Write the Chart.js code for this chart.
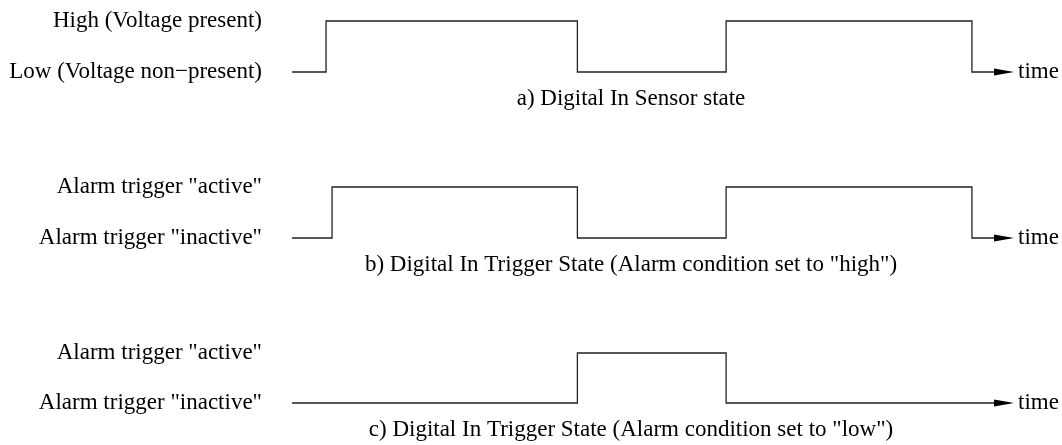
<!DOCTYPE html>
<html>
<head>
<meta charset="utf-8">
<script src="https://cdn.jsdelivr.net/npm/chart.js@4/dist/chart.umd.min.js"></script>
<style>
  body { margin: 0; background: #fff; overflow: hidden; }
  .panel { position: absolute; left: 0; width: 1062px; }
</style>
</head>
<body>
<div class="panel" style="top:0px;height:120px"><canvas id="chartA"></canvas></div>
<div class="panel" style="top:166px;height:120px"><canvas id="chartB"></canvas></div>
<div class="panel" style="top:332px;height:113px"><canvas id="chartC"></canvas></div>
<script>
// time of each change, and the level right after it (0 = low, 1 = high)
const timeA = [0, 3.4, 28.5, 43.35, 67.9, 71.1];
const stateA = [0, 1, 0, 1, 0, 0];
const timeB = [0, 4.0, 28.5, 43.35, 67.9, 71.1];
const stateB = [0, 1, 0, 1, 0, 0];
const timeC = [0, 28.5, 43.35, 71.1];
const stateC = [0, 1, 0, 0];

const levelsA = ['Low (Voltage non\u2212present)', 'High (Voltage present)'];
const levelsB = ['Alarm trigger "inactive"', 'Alarm trigger "active"'];
const levelsC = ['Alarm trigger "inactive"', 'Alarm trigger "active"'];

const captionA = 'a) Digital In Sensor state';
const captionB = 'b) Digital In Trigger State (Alarm condition set to "high")';
const captionC = 'c) Digital In Trigger State (Alarm condition set to "low")';
const axisName = 'time';

const FONT = { family: '"Liberation Serif", "Times New Roman", serif', size: 23 };

// arrow head used as point style on the last point of each trace
const arrow = document.createElement('canvas');
arrow.width = 20;
arrow.height = 8;
const actx = arrow.getContext('2d');
actx.fillStyle = '#000';
actx.beginPath();
actx.moveTo(0, 0.5);
actx.lineTo(20, 4);
actx.lineTo(0, 7.5);
actx.closePath();
actx.fill();

const captionPlugin = {
    id: 'caption',
    afterDraw(chart, args, opts) {
        const ctx = chart.ctx;
        ctx.save();
        ctx.font = FONT.size + 'px ' + FONT.family;
        ctx.fillStyle = '#000';
        ctx.textAlign = 'center';
        ctx.textBaseline = 'middle';
        ctx.fillText(opts.text, opts.x, chart.chartArea.bottom + opts.dy);
        ctx.restore();
    }
};

function makeTiming(id, times, states, levels, caption, padBottom) {
    const ctx = document.getElementById(id).getContext('2d');
    const last = times.length - 1;
    return new Chart(ctx, {
        type: 'line',
        data: {
            datasets: [{
                data: times.map((t, i) => ({ x: t, y: states[i] })),
                stepped: true,
                borderColor: '#222',
                borderWidth: 1.3,
                fill: false,
                clip: false,
                pointStyle: c => c.dataIndex === last ? arrow : 'circle',
                pointRadius: c => c.dataIndex === last ? 4 : 0,
                pointHoverRadius: 0
            }]
        },
        plugins: [captionPlugin],
        options: {
            responsive: true,
            maintainAspectRatio: false,
            animation: false,
            events: [],
            layout: { padding: { top: 21, bottom: padBottom, left: 0, right: 0 } },
            plugins: {
                legend: { display: false },
                tooltip: { enabled: false },
                caption: { text: caption, x: 631, dy: 27 }
            },
            scales: {
                x: { type: 'linear', min: 0, max: 72, display: false },
                y: {
                    position: 'left',
                    min: 0, max: 1,
                    // invisible tick marks give the gap between labels and plot
                    grid: { display: false, drawTicks: true, tickLength: 30 },
                    border: { display: false },
                    afterFit: s => { s.width = 292; },
                    ticks: {
                        stepSize: 1,
                        padding: 0,
                        color: '#000',
                        font: FONT,
                        callback: v => levels[v]
                    }
                },
                yRight: {
                    position: 'right',
                    min: 0, max: 1,
                    grid: { display: false, drawTicks: true, tickLength: 5 },
                    border: { display: false },
                    afterFit: s => { s.width = 49; },
                    ticks: {
                        stepSize: 1,
                        padding: 0,
                        color: '#000',
                        font: FONT,
                        callback: v => v === 0 ? axisName : ''
                    }
                }
            }
        }
    });
}

makeTiming('chartA', timeA, stateA, levelsA, captionA, 48);
makeTiming('chartB', timeB, stateB, levelsB, captionB, 48);
makeTiming('chartC', timeC, stateC, levelsC, captionC, 42);
</script>
</body>
</html>
